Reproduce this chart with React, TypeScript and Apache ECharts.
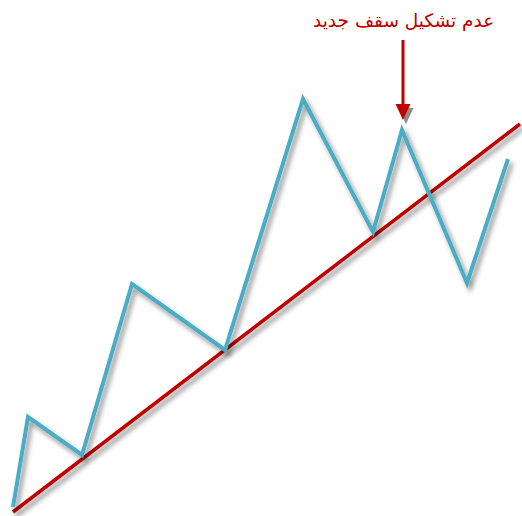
import React, { useEffect, useRef } from "react";
import * as echarts from "echarts";

// Price path (x = time, y = price)
const priceX = [13, 28, 82, 132, 225, 303, 373, 402, 467, 508];
const priceY = [9, 99, 61, 232, 166, 417, 284, 386, 233, 357];
// Trend line
const trendX = [13, 520];
const trendY = [4, 392];
// Arrow pointing at the failed high
const arrowX = [403, 403];
const arrowY = [476, 404];
const noteText = "عدم تشكيل سقف جديد";

export default function App() {
  const ref = useRef<HTMLDivElement>(null);
  useEffect(() => {
    document.body.style.margin = "0";
    const chart = echarts.init(ref.current!, null, { renderer: "svg" });
    const shadow = {
      shadowColor: "rgba(0,0,0,0.45)",
      shadowBlur: 5,
      shadowOffsetX: 3,
      shadowOffsetY: 4,
    };
    chart.setOption({
      animation: false,
      backgroundColor: "#ffffff",
      grid: { left: 0, right: 0, top: 0, bottom: 0 },
      xAxis: { type: "value", min: 0, max: 522, show: false },
      yAxis: { type: "value", min: 0, max: 516, show: false },
      series: [
        {
          type: "line",
          z: 2,
          data: trendX.map((x, i) => [x, trendY[i]]),
          symbol: "none",
          lineStyle: { color: "#c00000", width: 3.5, ...shadow },
        },
        {
          type: "line",
          z: 3,
          data: priceX.map((x, i) => [x, priceY[i]]),
          symbol: "none",
          lineStyle: { color: "#4bacc6", width: 4, join: "miter", ...shadow },
        },
        {
          type: "line",
          z: 4,
          data: arrowX.map((x, i) => [x, arrowY[i]]),
          symbol: "none",
          lineStyle: { color: "#c00000", width: 3 },
          markPoint: {
            symbol: "triangle",
            symbolRotate: 180,
            symbolSize: [15, 16],
            data: [{ coord: [arrowX[1], arrowY[1]] }],
            itemStyle: { color: "#c00000", ...shadow },
            label: { show: false },
          },
        },
      ],
      graphic: [
        {
          type: "text",
          left: 313,
          top: 11,
          style: {
            text: noteText,
            fill: "#c00000",
            font: "18.5px 'DejaVu Sans'",
          },
        },
      ],
    });
    return () => chart.dispose();
  }, []);
  return <div ref={ref} style={{ width: 522, height: 516 }} />;
}
